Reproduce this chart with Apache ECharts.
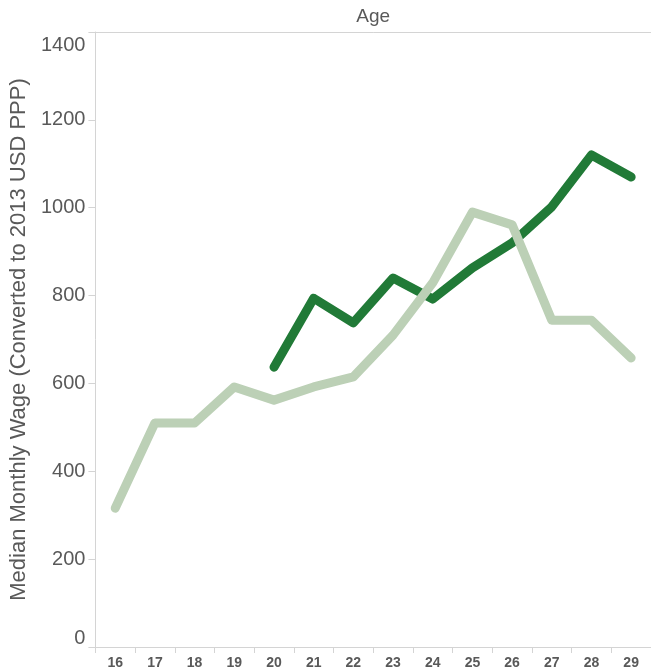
<!DOCTYPE html>
<html>
<head>
<meta charset="utf-8">
<script src="https://cdn.jsdelivr.net/npm/echarts@6/dist/echarts.min.js"></script>
<style>
  html, body { margin: 0; padding: 0; background: #fff; }
  #chart { width: 651px; height: 672px; }
</style>
</head>
<body>
<div id="chart"></div>
<script>
const ages = ['16', '17', '18', '19', '20', '21', '22', '23', '24', '25', '26', '27', '28', '29']
// light series spans all ages, dark one starts at 20
const lightWage = [316, 510, 510, 592, 562, 592, 615, 710, 829, 990, 961, 744, 744, 658]
const darkWage = [null, null, null, null, 637, 794, 738, 840, 792, 863, 920, 1002, 1120, 1070]
const yMin = 0
const yMax = 1400
const yStep = 200

const textClr = '#595959'
const axisClr = '#d4d4d4'
const font = 'Liberation Sans, Arial, sans-serif'

const chart = echarts.init(document.getElementById('chart'))

chart.setOption({
  backgroundColor: '#fff',
  animation: false,
  grid: { left: 94, right: 0, top: 32, bottom: 25 },
  xAxis: [
    {
      type: 'category',
      data: ages,
      boundaryGap: true,
      axisLine: { lineStyle: { color: axisClr, width: 1 } },
      axisTick: { show: true, length: 6, lineStyle: { color: axisClr } },
      axisLabel: { color: textClr, fontSize: 14, fontWeight: 'bold', fontFamily: font, margin: 9 },
      splitLine: { show: false },
    },
    {
      type: 'category',
      data: ages,
      position: 'top',
      name: 'Age',
      nameLocation: 'middle',
      nameGap: 6,
      nameTextStyle: { color: textClr, fontSize: 19, fontFamily: font },
      axisLine: { lineStyle: { color: axisClr, width: 1 } },
      axisTick: { show: false },
      axisLabel: { show: false },
    },
  ],
  yAxis: {
    type: 'value',
    min: yMin,
    max: yMax,
    interval: yStep,
    name: 'Median Monthly Wage (Converted to 2013 USD PPP)',
    nameLocation: 'middle',
    nameRotate: 90,
    nameGap: 60,
    nameTextStyle: { color: textClr, fontSize: 22, fontFamily: font },
    axisLine: { show: true, lineStyle: { color: axisClr, width: 1 } },
    axisTick: { show: true, length: 7, lineStyle: { color: axisClr } },
    splitLine: { show: false },
    axisLabel: {
      color: textClr,
      fontSize: 20,
      fontFamily: font,
      margin: 10,
      // end labels are pulled inside the plot like the original
      formatter(v) {
        if (v === yMin) return '{lo|' + v + '}'
        if (v === yMax) return '{hi|' + v + '}'
        return String(v)
      },
      rich: {
        lo: { fontSize: 20, color: textClr, fontFamily: font, padding: [0, 0, 18, 0] },
        hi: { fontSize: 20, color: textClr, fontFamily: font, padding: [26, 0, 0, 0] },
      },
    },
  },
  series: [
    {
      name: 'dark',
      type: 'line',
      data: darkWage,
      showSymbol: false,
      connectNulls: false,
      lineStyle: { color: '#217a37', width: 9, cap: 'round', join: 'round' },
      z: 2,
    },
    {
      name: 'light',
      type: 'line',
      data: lightWage,
      showSymbol: false,
      lineStyle: { color: '#bcd0b6', width: 9, cap: 'round', join: 'round' },
      z: 3,
    },
  ],
})
</script>
</body>
</html>
